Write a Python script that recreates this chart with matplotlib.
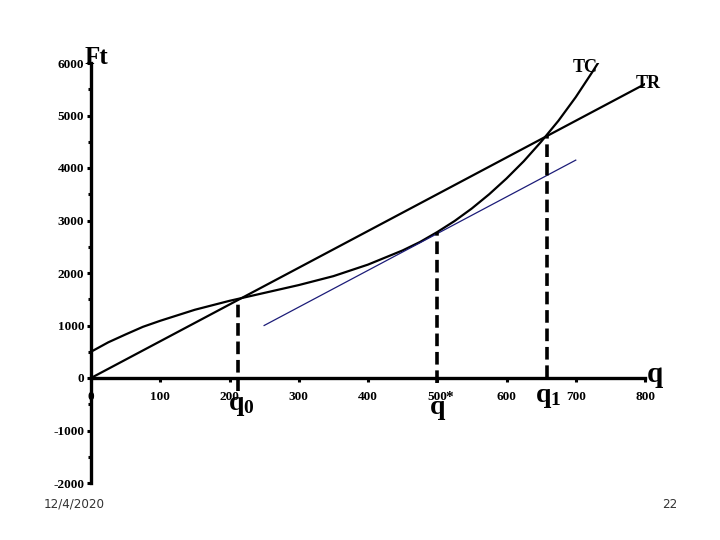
import matplotlib
matplotlib.use("Agg")
import matplotlib.pyplot as plt
from matplotlib.ticker import MultipleLocator

plt.rcParams['font.family'] = ['Liberation Serif', 'DejaVu Serif']
plt.rcParams['mathtext.fontset'] = 'custom'
plt.rcParams['mathtext.rm'] = 'Liberation Serif'
plt.rcParams['mathtext.bf'] = 'Liberation Serif:bold'

# ---- data ----
tr_q = [0, 100, 200, 300, 400, 500, 600, 700, 800]
tr_v = [0, 700, 1400, 2100, 2800, 3500, 4200, 4900, 5600]

tc_q = [0, 25, 50, 75, 100, 150, 200, 250, 300, 350, 400, 450, 475, 500, 525,
        550, 575, 600, 625, 650, 675, 700, 725, 735]
tc_v = [500, 680, 830, 975, 1090, 1300, 1470, 1620, 1770, 1940, 2160, 2430, 2590,
        2780, 2990, 3230, 3500, 3800, 4130, 4500, 4900, 5350, 5850, 6060]

tan_q = [250, 700]
tan_v = [1000, 4150]

# dashed markers: (q, bottom, top)
mark_q = [212, 500, 658]
mark_bot = [-250, -100, 0]
mark_top = [1505, 2790, 4610]

xticks = [0, 100, 200, 300, 400, 500, 600, 700, 800]
yticks = [-2000, -1000, 0, 1000, 2000, 3000, 4000, 5000, 6000]

fig = plt.figure(figsize=(7.2, 5.4), dpi=100)
ax = fig.add_axes([91/720, 57/540, 554/720, 420/540])

ax.plot(tr_q, tr_v, color='black', lw=1.6, solid_capstyle='round')
ax.plot(tc_q, tc_v, color='black', lw=1.6, solid_capstyle='round',
        solid_joinstyle='round')
ax.plot(tan_q, tan_v, color='#1c1c78', lw=0.9)

for q, b, t in zip(mark_q, mark_bot, mark_top):
    ax.plot([q, q], [b, t], color='black', lw=2.6, linestyle=(0, (3.5, 1.6)),
            clip_on=False)

ax.set_xlim(0, 800)
ax.set_ylim(-2000, 6000)

for s in ['top', 'right']:
    ax.spines[s].set_visible(False)
ax.spines['left'].set_position(('data', 0))
ax.spines['bottom'].set_position(('data', 0))
ax.spines['left'].set_linewidth(2.4)
ax.spines['bottom'].set_linewidth(2.4)

ax.set_xticks(xticks)
ax.set_yticks(yticks)
ax.set_xticklabels([str(v) for v in xticks])
ax.set_yticklabels([str(v) for v in yticks])
ax.yaxis.set_minor_locator(MultipleLocator(500))
ax.tick_params(axis='y', which='major', direction='out', length=3, width=2.2,
               pad=2, labelsize=9.5)
ax.tick_params(axis='y', which='minor', direction='out', length=2.5, width=2.2)
ax.tick_params(axis='x', which='major', direction='out', length=3, width=2.2,
               pad=6, labelsize=9.5)
for lab in ax.get_xticklabels() + ax.get_yticklabels():
    lab.set_fontweight('bold')

# labels
ax.text(-9, 5990, 'Ft', fontsize=18, fontweight='bold', ha='left', va='baseline')
ax.text(696, 5829, 'TC', fontsize=13, fontweight='bold', ha='left', va='baseline')
ax.text(786, 5524, 'TR', fontsize=13, fontweight='bold', ha='left', va='baseline')
ax.text(803, -76, 'q', fontsize=21, fontweight='bold', ha='left', va='baseline')
ax.text(198, -610, r'$\mathbf{q_0}$', fontsize=20, ha='left', va='baseline')
ax.text(641, -457, r'$\mathbf{q_1}$', fontsize=20, ha='left', va='baseline')
ax.text(490, -686, 'q', fontsize=20, fontweight='bold', ha='left', va='baseline')
ax.text(512, -380, '*', fontsize=11, fontweight='bold', ha='left', va='center')

# footer
fig.text(44/720, 1 - 504/540, '12/4/2020', fontsize=9.5, color='#333333',
         family=['DejaVu Sans'], stretch='condensed', ha='left', va='center')
fig.text(677/720, 1 - 504/540, '22', fontsize=9.5, color='#333333',
         family=['DejaVu Sans'], stretch='condensed', ha='right', va='center')

fig.savefig('out.png', dpi=100)
